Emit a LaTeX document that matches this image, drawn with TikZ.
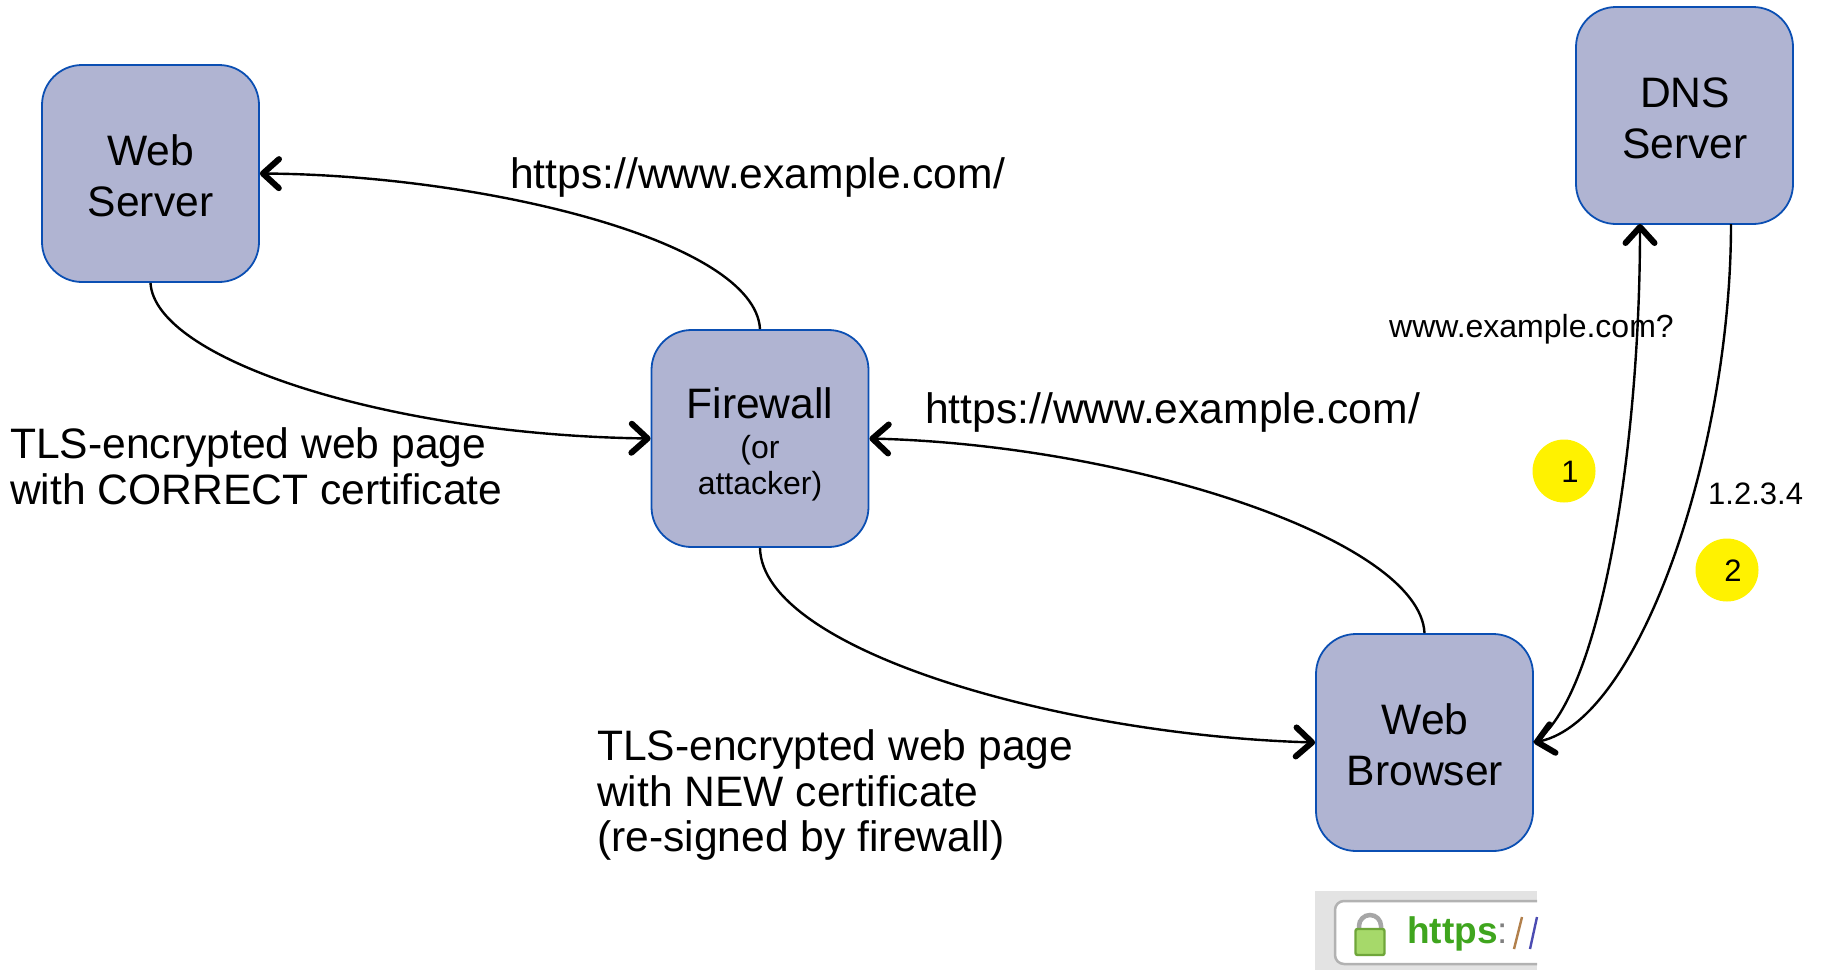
\documentclass[tikz,border=0pt]{standalone}
\usepackage{fontspec}
\setmainfont{Liberation Sans}
\usetikzlibrary{arrows.meta}
\definecolor{boxfill}{HTML}{B0B4D2}
\definecolor{boxline}{HTML}{0B4FB3}
\definecolor{lockgreen}{HTML}{A6D96A}
\definecolor{lockedge}{HTML}{6FA63A}
\definecolor{httpsgreen}{HTML}{3FA51E}
\tikzset{
 x=1pt,y=-1pt,
 box/.style={draw=boxline,line width=1.8pt,fill=boxfill,rounded corners=40pt,minimum width=217pt,minimum height=217pt,inner sep=0pt},
 boxtext/.style={inner sep=0pt,align=center,font=\fontsize{42.6}{51}\selectfont},
 lbl/.style={anchor=west,inner sep=0pt,align=left,font=\fontsize{42.6}{45.5}\selectfont},
 small/.style={anchor=center,inner sep=0pt,font=\fontsize{32}{36}\selectfont},
 badge/.style={circle,fill=yellow,minimum size=63pt,inner sep=0pt},
 digit/.style={inner sep=0pt,font=\fontsize{31}{36}\selectfont},
 conn/.style={draw=black,line width=2.4pt,-{Straight Barb[length=16pt,width=29pt,line width=6pt,round]}},
}
\begin{document}
\begin{tikzpicture}
\useasboundingbox (0,0) rectangle (1821,970);
\node[box] (ws) at (150.5,173.5) {};
\node[box] (fw) at (760,438.5) {};
\node[box] (wb) at (1424.5,742.5) {};
\node[box] (dns) at (1684.5,115.5) {};
\node[boxtext] (wst) at (150.5,176) {Web\\Server};
\node[boxtext] (wbt) at (1425,745) {Web\\Browser};
\node[boxtext] (dnst) at (1685,118) {DNS\\Server};
\node[boxtext] (fwt) at (760,403) {Firewall};
\node[inner sep=0pt,align=center,font=\fontsize{32}{36}\selectfont] (fws) at (760,468) {(or\\attacker)};
\draw[conn] (fw.north) .. controls (755,240) and (480,175) .. (ws.east);
\draw[conn] (ws.south) .. controls (155,360) and (390,435) .. (fw.west);
\draw[conn] (wb.north) .. controls (1420,540) and (1130,445) .. (fw.east);
\draw[conn] (fw.south) .. controls (762,650) and (1060,735) .. (wb.west);
\coordinate (dnsq) at (1640,224);
\coordinate (dnsa) at (1731,224);
\draw[conn] (wb.east) .. controls (1600,700) and (1640,450) .. (dnsq);
\draw[conn] (dnsa) .. controls (1731,450) and (1640,720) .. (wb.east);
\node[lbl] (u1) at (510,177) {https://www.example.com/};
\node[lbl] (u2) at (925,412) {https://www.example.com/};
\node[lbl] (t1) at (10,466.5) {TLS-encrypted web page\\with CORRECT certificate};
\node[lbl] (t2) at (597,795) {TLS-encrypted web page\\with NEW certificate\\(re-signed by firewall)};
\node[small,anchor=west] (q) at (1389,329) {www.example.com?};
\node[digit,anchor=west] (a) at (1708,494) {1.2.3.4};
\node[badge] (b1) at (1564,471) {};
\node[digit] (d1) at (1570,472) {1};
\node[badge] (b2) at (1727,570) {};
\node[digit] (d2) at (1733,571) {2};
% address bar picture
\fill[gray!22] (1315,891) rectangle (1537,970);
\draw[gray!60,line width=2.5pt,fill=white,rounded corners=9pt] (1537,901) -- (1335,901) -- (1335,964) -- (1537,964);
\draw[gray!70,line width=4.5pt] (1359,932) -- (1359,926) arc[start angle=180,end angle=0,radius=11pt] -- (1381,932);
\node[draw=lockedge,line width=2.4pt,fill=lockgreen,rounded corners=2pt,minimum width=29pt,minimum height=26pt,inner sep=0pt] (lock) at (1370,942) {};
\node[anchor=west,inner sep=0pt,text=httpsgreen,font=\fontsize{37}{40}\selectfont\bfseries] (h) at (1407,934) {https};
\node[anchor=west,inner sep=0pt,text=gray,font=\fontsize{37}{40}\selectfont] (s) at (1497,934) {:};
\draw[gray!60!orange,line width=2.4pt] (1522,917) -- (1514,949);
\draw[gray!60!blue,line width=2.4pt] (1537,917) -- (1530,949);
\end{tikzpicture}
\end{document}
